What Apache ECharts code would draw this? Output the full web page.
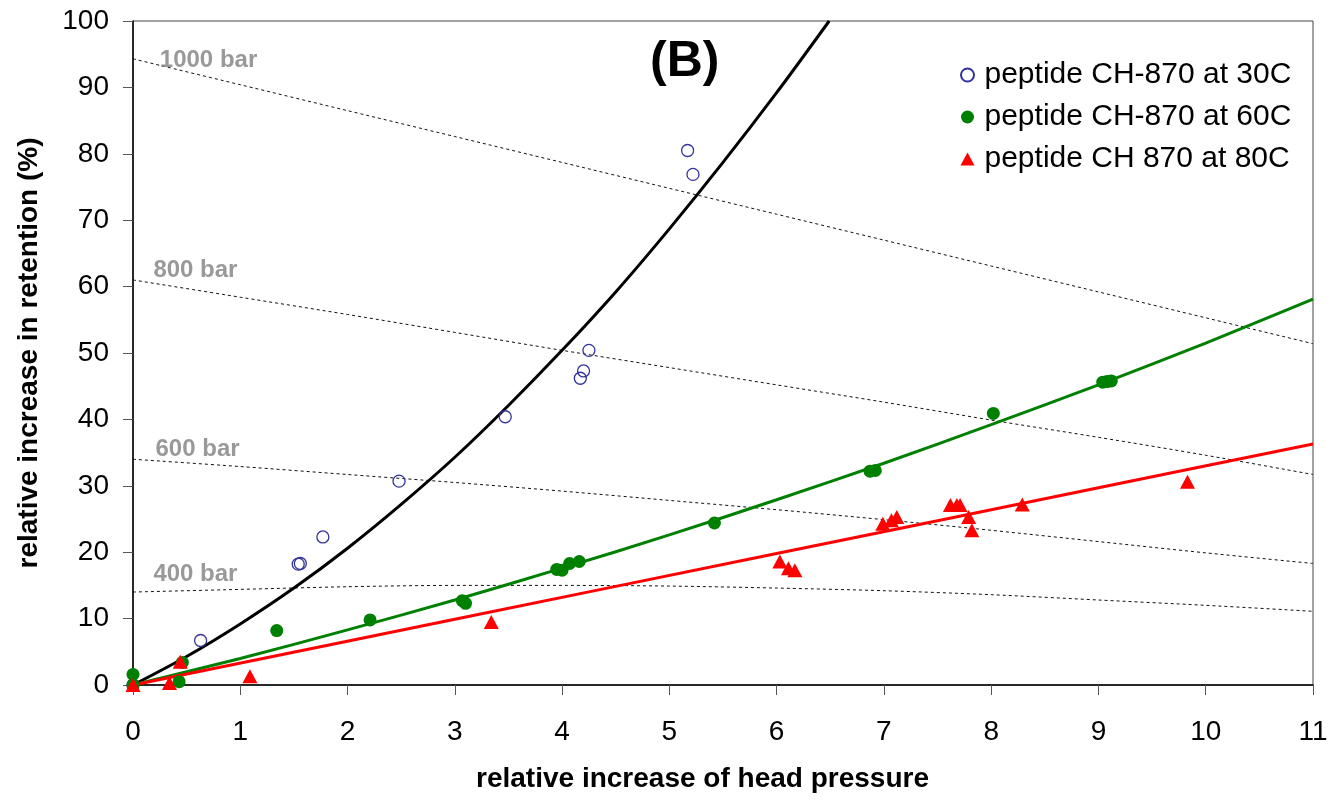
<!DOCTYPE html>
<html>
<head>
<meta charset="utf-8">
<script src="https://cdn.jsdelivr.net/npm/echarts@6/dist/echarts.min.js"></script>
<style>
  html, body { margin: 0; padding: 0; background: #ffffff; }
  #chart { width: 1343px; height: 800px; }
</style>
</head>
<body>
<div id="chart"></div>
<script>
// Measured retention increase vs. relative head pressure, peptide CH-870
const x30 = [0, 0.63, 1.54, 1.56, 1.77, 2.48, 3.47, 4.17, 4.20, 4.25, 5.17, 5.22];
const y30 = [0, 6.7, 18.2, 18.3, 22.3, 30.7, 40.4, 46.2, 47.3, 50.4, 80.5, 76.9];

const x60 = [0, 0, 0.43, 0.46, 1.34, 2.21, 3.07, 3.10, 3.95, 4.00, 4.07, 4.16, 5.42, 6.87, 6.92, 8.02, 9.04, 9.08, 9.12];
const y60 = [0, 1.6, 0.5, 3.4, 8.2, 9.8, 12.7, 12.3, 17.4, 17.3, 18.3, 18.6, 24.4, 32.2, 32.3, 40.9, 45.6, 45.7, 45.8];

const x80 = [0, 0.34, 0.44, 1.09, 3.34, 6.03, 6.11, 6.17, 6.99, 7.07, 7.12, 7.62, 7.68, 7.71, 7.79, 7.82, 8.29, 9.83];
const y80 = [0, 0.3, 3.5, 1.3, 9.5, 18.6, 17.6, 17.3, 24.3, 24.8, 25.3, 27.1, 27.1, 27.1, 25.3, 23.3, 27.2, 30.6];

// Trend curves through each data set
const fit30X = [0, 0.5, 1, 1.5, 2, 2.5, 3, 3.5, 4, 4.5, 5, 5.5, 6, 6.49];
const fit30Y = [0, 4.3, 9.2, 14.6, 20.6, 27.2, 34.3, 42.1, 50.4, 59.2, 68.7, 78.7, 89.2, 100];
const fit60X = [0, 1, 2, 3, 4, 5, 6, 7, 8, 9, 10, 11];
const fit60Y = [0, 4.0, 8.3, 12.8, 17.6, 22.6, 27.9, 33.4, 39.2, 45.2, 51.5, 58.1];
const fit80X = [0, 3, 6, 9, 11];
const fit80Y = [0, 9.9, 19.8, 29.7, 36.3];

// Constant-pressure (isobar) lines
const isobarX = [0, 1, 2, 3, 4, 5, 6, 7, 8, 9, 10, 11];
const bar400 = [14.0, 14.4, 14.8, 15.0, 15.0, 14.9, 14.6, 14.2, 13.6, 12.8, 12.0, 11.1];
const bar600 = [34.0, 32.9, 31.7, 30.5, 29.2, 27.8, 26.4, 24.9, 23.3, 21.6, 19.9, 18.3];
const bar800 = [61.0, 58.4, 55.8, 53.1, 50.4, 47.8, 45.2, 42.6, 39.9, 37.3, 34.6, 31.7];
const bar1000 = [94.3, 90.4, 86.5, 82.6, 78.7, 74.8, 70.9, 67.0, 63.1, 59.2, 55.3, 51.4];

const isobarNames = ['400 bar', '600 bar', '800 bar', '1000 bar'];
const isobarLabelX = [0.19, 0.21, 0.19, 0.25];
const isobarLabelY = [16.7, 35.5, 62.5, 94.1];

const seriesNames = ['peptide CH-870 at 30C', 'peptide CH-870 at 60C', 'peptide CH 870 at 80C'];

const FONT = '"Liberation Sans", Arial, sans-serif';

const pairs = (xs, ys) => xs.map((x, i) => [x, ys[i]]);

function isobar(ys) {
  return {
    type: 'line',
    data: pairs(isobarX, ys),
    smooth: 0.3,
    showSymbol: false,
    silent: true,
    z: 1,
    lineStyle: { color: '#111', width: 1, type: [3, 3] }
  };
}

function fitLine(xs, ys, color) {
  return {
    type: 'line',
    data: pairs(xs, ys),
    smooth: 0.3,
    showSymbol: false,
    silent: true,
    z: 2,
    lineStyle: { color: color, width: 3 }
  };
}

const chart = echarts.init(document.getElementById('chart'), null, { renderer: 'canvas' });

chart.setOption({
  animation: false,
  backgroundColor: '#ffffff',
  grid: {
    left: 133, right: 30, top: 21, bottom: 115,
    containLabel: false,
    outerBoundsMode: 'none',
    show: true,
    borderColor: '#444',
    borderWidth: 1
  },
  legend: {
    data: seriesNames,
    orient: 'vertical',
    left: 955,
    top: 55,
    itemWidth: 14,
    itemHeight: 13,
    itemGap: 12,
    textStyle: { fontFamily: FONT, fontSize: 30, color: '#000', padding: [0, 0, 0, 5] }
  },
  graphic: [{
    type: 'text',
    left: 650,
    top: 37,
    style: { text: '(B)', font: 'bold 50px ' + FONT, fill: '#000' }
  }],
  xAxis: {
    type: 'value',
    min: 0, max: 11, interval: 1,
    name: 'relative increase of head pressure',
    nameLocation: 'middle',
    nameGap: 80,
    nameTextStyle: { fontFamily: FONT, fontSize: 28, fontWeight: 'bold', color: '#000', padding: [0, 41, 0, 0] },
    axisLine: { lineStyle: { color: '#000', width: 1.5 } },
    axisTick: { show: true, length: 10, lineStyle: { color: '#555', width: 1 } },
    axisLabel: { fontFamily: FONT, fontSize: 28, color: '#000', margin: 33 },
    splitLine: { show: false }
  },
  yAxis: {
    type: 'value',
    min: 0, max: 100, interval: 10,
    name: 'relative increase in retention (%)',
    nameLocation: 'middle',
    nameGap: 90,
    nameTextStyle: { fontFamily: FONT, fontSize: 28, fontWeight: 'bold', color: '#000' },
    axisLine: { show: true, lineStyle: { color: '#000', width: 1.5 } },
    axisTick: { show: true, length: 10, lineStyle: { color: '#555', width: 1 } },
    axisLabel: { fontFamily: FONT, fontSize: 28, color: '#000', margin: 24 },
    splitLine: { show: false }
  },
  series: [
    isobar(bar400),
    isobar(bar600),
    isobar(bar800),
    isobar(bar1000),
    {
      type: 'scatter',
      silent: true,
      symbolSize: 0,
      z: 3,
      data: isobarNames.map((n, i) => ({ name: n, value: [isobarLabelX[i], isobarLabelY[i]] })),
      label: {
        show: true,
        position: 'inside',
        align: 'left',
        verticalAlign: 'middle',
        formatter: '{b}',
        fontFamily: FONT,
        fontSize: 24,
        fontWeight: 'bold',
        color: '#808080'
      }
    },
    fitLine(fit30X, fit30Y, '#000000'),
    fitLine(fit60X, fit60Y, '#008000'),
    fitLine(fit80X, fit80Y, '#ff0000'),
    {
      name: seriesNames[0],
      type: 'scatter',
      symbol: 'circle',
      symbolSize: 12,
      z: 5,
      data: pairs(x30, y30),
      itemStyle: { color: 'rgba(255,255,255,0)', borderColor: '#333399', borderWidth: 1.3, opacity: 1 }
    },
    {
      name: seriesNames[1],
      type: 'scatter',
      symbol: 'circle',
      symbolSize: 13,
      z: 5,
      data: pairs(x60, y60),
      itemStyle: { color: '#008000', opacity: 1 }
    },
    {
      name: seriesNames[2],
      type: 'scatter',
      symbol: 'triangle',
      symbolSize: [15, 14],
      z: 6,
      data: pairs(x80, y80),
      itemStyle: { color: '#ff0000', opacity: 1 }
    }
  ]
});
</script>
</body>
</html>
